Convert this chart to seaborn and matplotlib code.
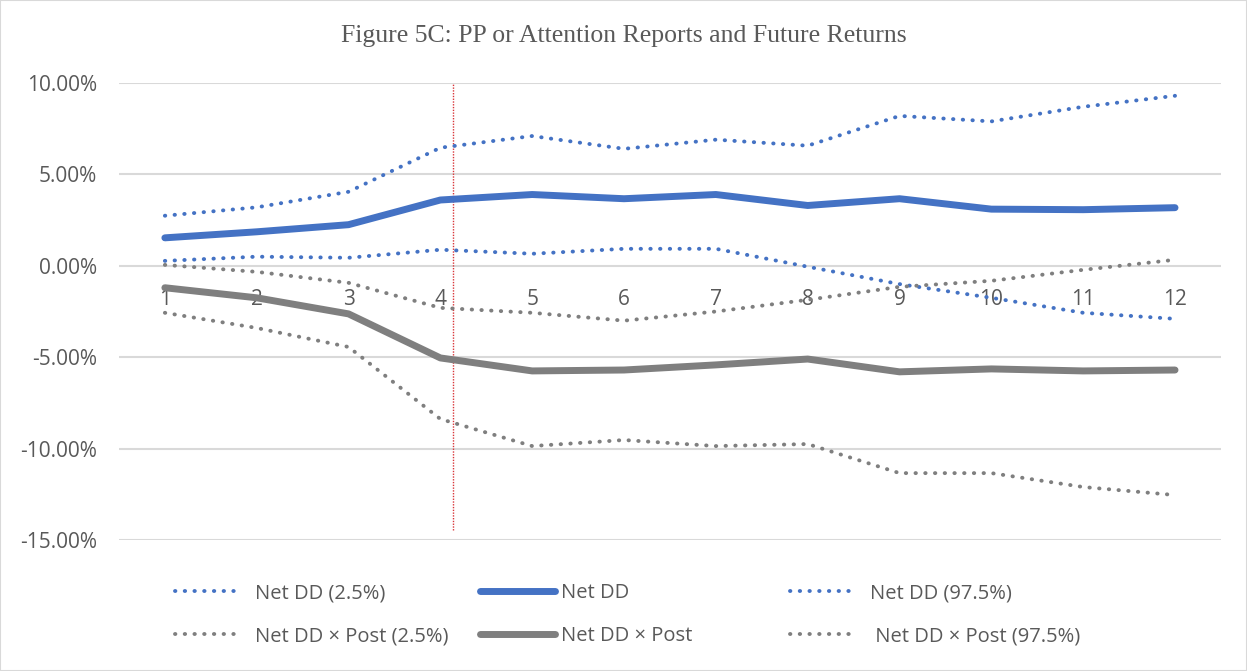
import numpy as np
import pandas as pd
import matplotlib.pyplot as plt
import seaborn as sns
from matplotlib.patches import Rectangle

# --------------------------------------------------
# DATA (values in percent)
# --------------------------------------------------

months = [1, 2, 3, 4, 5, 6, 7, 8, 9, 10, 11, 12]

net_dd_lo = [0.27, 0.50, 0.44, 0.88, 0.66, 0.93, 0.93, -0.05, -1.00, -1.75, -2.57, -2.90]
net_dd = [1.53, 1.86, 2.25, 3.60, 3.90, 3.67, 3.90, 3.30, 3.67, 3.10, 3.07, 3.18]
net_dd_hi = [2.74, 3.20, 4.05, 6.46, 7.10, 6.40, 6.90, 6.57, 8.20, 7.90, 8.70, 9.30]

post_lo = [-2.57, -3.40, -4.44, -8.38, -9.86, -9.53, -9.86, -9.75, -11.34, -11.34, -12.10, -12.54]
post = [-1.20, -1.75, -2.63, -5.04, -5.75, -5.70, -5.42, -5.10, -5.80, -5.64, -5.75, -5.70]
post_hi = [0.05, -0.33, -0.93, -2.30, -2.57, -3.00, -2.50, -1.86, -1.15, -0.82, -0.22, 0.33]

event_x = 4.14          # red dotted marker line
event_span = (-14.45, 10.0)

BLUE = "#4472C4"
GREY = "#7F7F7F"

# --------------------------------------------------
# FIGURE
# --------------------------------------------------

sns.set_theme(style="white")
plt.rcParams['font.family'] = ['Open Sans', 'DejaVu Sans']

fig = plt.figure(figsize=(12.47, 6.71), dpi=100)
ax = fig.add_axes([0.0954, 0.1952, 0.8837, 0.6811])

dot = (0, (0.1, 2.4))
series = [
    (net_dd_lo, BLUE, dot, 2.8, "Net DD (2.5%)"),
    (net_dd, BLUE, "-", 5.0, "Net DD"),
    (net_dd_hi, BLUE, dot, 2.8, "Net DD (97.5%)"),
    (post_lo, GREY, dot, 2.8, "Net DD × Post (2.5%)"),
    (post, GREY, "-", 5.0, "Net DD × Post"),
    (post_hi, GREY, dot, 2.8, " Net DD × Post (97.5%)"),
]

handles = []
for vals, col, ls, lw, lab in series:
    df = pd.DataFrame({"month": months, "ret": vals})
    sns.lineplot(data=df, x="month", y="ret", ax=ax, color=col,
                 linestyle=ls, linewidth=lw, dash_capstyle="round",
                 solid_capstyle="round", solid_joinstyle="round",
                 legend=False)
    line = ax.lines[-1]
    handles.append((line, lab))

if ax.get_legend() is not None:
    ax.get_legend().remove()

ax.vlines(event_x, event_span[0], event_span[1], colors="#D9363A",
          linestyles=(0, (1, 1)), linewidth=1.0, zorder=1)

# axes look (Excel style)
ax.set_xlim(0.5, 12.5)
ax.set_ylim(-15, 10)
ax.set_yticks([-15, -10, -5, 0, 5, 10])
ax.set_yticklabels([f"{v:.2f}%" for v in [-15, -10, -5, 0, 5, 10]])
ax.set_xticks(months)
ax.set_xticklabels([str(m) for m in months])
ax.grid(axis="y", color="#D9D9D9", linewidth=1.5, zorder=0)
ax.set_axisbelow(True)
for s in ax.spines.values():
    s.set_visible(False)
ax.spines['bottom'].set_position(('data', 0))
ax.tick_params(axis="x", length=0, pad=17, labelsize=15, labelcolor="#595959")
ax.tick_params(axis="y", length=0, pad=16, labelsize=15, labelcolor="#595959")
ax.set_xlabel("")
ax.set_ylabel("")

fig.text(0.5, 0.946, "Figure 5C: PP or Attention Reports and Future Returns",
         ha="center", va="center", fontsize=18.5, color="#595959",
         family=["Liberation Serif", "DejaVu Serif"])

# legend: three columns of two rows
col_x = [175, 480, 790]
hlen = [3.0, 3.7, 3.0]
hpad = [0.95, 0.3, 0.95]
for i in range(3):
    pair = [handles[i], handles[i + 3]]
    fig.legend(handles=[p[0] for p in pair], labels=[p[1] for p in pair],
               loc="upper left", bbox_to_anchor=(col_x[i] / 1247, 1 - 583 / 671),
               frameon=False, fontsize=14.5, handlelength=hlen[i],
               handletextpad=hpad[i], labelspacing=1.15,
               borderpad=0, borderaxespad=0, labelcolor="#595959")

fig.patches.append(Rectangle((0, 0), 1, 1, transform=fig.transFigure,
                             fill=False, edgecolor="#D9D9D9", linewidth=1.5))

fig.savefig("out.png", dpi=100)
